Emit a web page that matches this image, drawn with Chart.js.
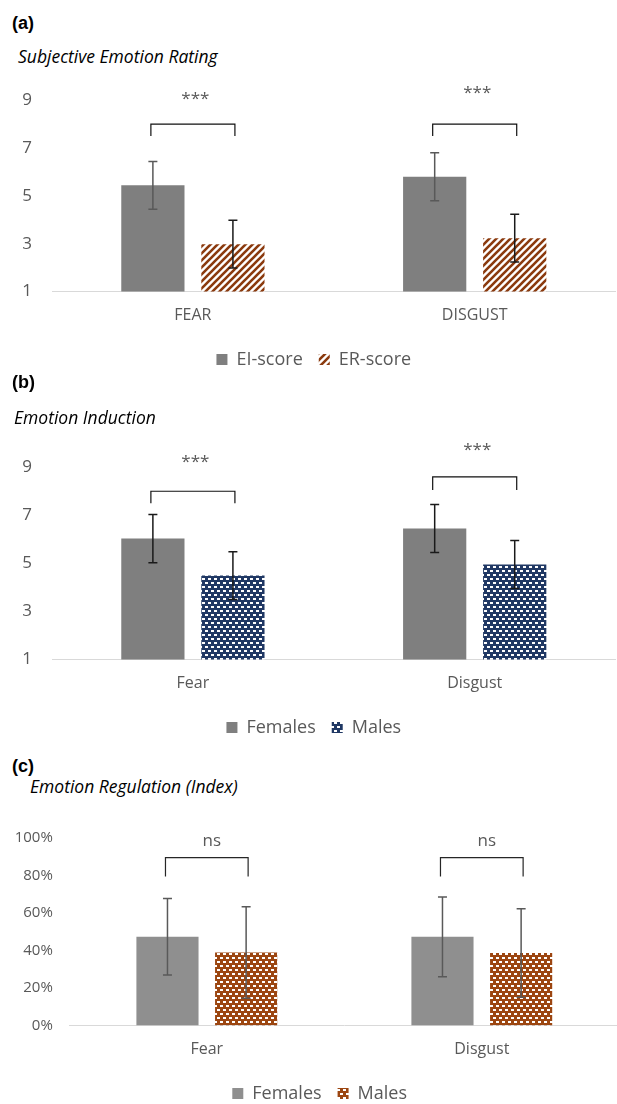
<!DOCTYPE html>
<html><head><meta charset="utf-8">
<script src="https://cdn.jsdelivr.net/npm/chart.js@4.4.1/dist/chart.umd.min.js"></script>
<style>
html,body{margin:0;padding:0;background:#fff;width:617px;height:1104px;overflow:hidden;position:relative;}
.lab{position:absolute;font-family:"Liberation Sans",Arial,sans-serif;font-weight:bold;font-size:18px;line-height:18px;color:#000;}
.sub{position:absolute;font-family:"Open Sans",sans-serif;font-style:italic;font-size:17.5px;line-height:17px;color:#000;white-space:nowrap;}
canvas{position:absolute;left:0;}
</style></head><body>
<div class="lab" style="left:12px;top:14px">(a)</div>
<div class="sub" style="left:18px;top:48px">Subjective Emotion Rating</div>
<canvas id="ca" width="630" height="310" style="top:70px"></canvas>
<div class="lab" style="left:12px;top:373px">(b)</div>
<div class="sub" style="left:14px;top:409px">Emotion Induction</div>
<canvas id="cb" width="630" height="311" style="top:437px"></canvas>
<div class="lab" style="left:12px;top:757px">(c)</div>
<div class="sub" style="left:30px;top:778px">Emotion Regulation (Index)</div>
<canvas id="cc" width="630" height="306" style="top:808px"></canvas>
<script>
// ---------- DATA ----------
// (a) Subjective Emotion Rating
const catsA = ['FEAR', 'DISGUST'];
const seriesA = ['EI-score', 'ER-score'];
const eiMean = [5.44, 5.80];
const eiSD = [1.00, 1.00];
const erMean = [2.98, 3.23];
const erSD = [1.00, 1.00];
const sigA = ['***', '***'];
const brTopA = [8.0, 8.0];
const brFootA = [7.5, 7.5];
const sigPosA = [9.05, 9.3];
const ticksA = [1, 3, 5, 7, 9];

// (b) Emotion Induction
const catsB = ['Fear', 'Disgust'];
const seriesB = ['Females', 'Males'];
const femMeanB = [6.03, 6.45];
const femSDB = [1.00, 1.00];
const malMeanB = [4.49, 4.95];
const malSDB = [0.99, 1.00];
const sigB = ['***', '***'];
const brTopB = [8.0, 8.6];
const brFootB = [7.5, 8.05];
const sigPosB = [9.19, 9.71];
const ticksB = [1, 3, 5, 7, 9];

// (c) Emotion Regulation (Index), percent
const catsC = ['Fear', 'Disgust'];
const seriesC = ['Females', 'Males'];
const femMeanC = [47.3, 47.3];
const femSDC = [20.4, 21.3];
const malMeanC = [39.0, 38.7];
const malSDC = [24.4, 23.6];
const sigC = ['ns', 'ns'];
const brTopC = [89.5, 89.5];
const brFootC = [79.5, 79.5];
const sigPosC = [98.1, 98.1];
const ticksC = [0, 20, 40, 60, 80, 100];

// ---------- STYLE ----------
const F = '"Open Sans", sans-serif';
const GREY_TXT = '#595959';

function stripePattern(color) {
  const s = 7, c = document.createElement('canvas');
  c.width = s; c.height = s;
  const g = c.getContext('2d');
  g.fillStyle = '#fff'; g.fillRect(0, 0, s, s);
  g.strokeStyle = color; g.lineWidth = 2.6; g.lineCap = 'square';
  g.beginPath();
  for (let k = -1; k <= 1; k++) {
    g.moveTo(k * s - 1, s + 1); g.lineTo(k * s + s + 1, -1);
  }
  g.stroke();
  return g.createPattern(c, 'repeat');
}
function brickPattern(bg) {
  const w = 6, h = 8, c = document.createElement('canvas');
  c.width = w; c.height = h;
  const g = c.getContext('2d');
  g.fillStyle = bg; g.fillRect(0, 0, w, h);
  g.fillStyle = '#fff';
  g.fillRect(1, 1, 3, 2);
  g.fillRect(4, 5, 2, 2); g.fillRect(0, 5, 1, 2);
  return g.createPattern(c, 'repeat');
}

const extras = {
  id: 'extras',
  afterLayout(chart, args, o) {
    if (o && o.legendShift && chart.legend) {
      chart.legend.left += o.legendShift; chart.legend.right += o.legendShift;
    }
  },
  afterDatasetsDraw(chart, args, o) {
    const ctx = chart.ctx, y = chart.scales.y;
    o.err.forEach((e, di) => {
      const meta = chart.getDatasetMeta(di);
      meta.data.forEach((bar, j) => {
        const m = chart.data.datasets[di].data[j], sd = e.sd[j];
        const yt = y.getPixelForValue(m + sd), yb = y.getPixelForValue(m - sd);
        ctx.save();
        ctx.strokeStyle = e.color; ctx.lineWidth = e.width;
        ctx.beginPath();
        ctx.moveTo(bar.x, yt); ctx.lineTo(bar.x, yb);
        ctx.moveTo(bar.x - 4.5, yt); ctx.lineTo(bar.x + 4.5, yt);
        ctx.moveTo(bar.x - 4.5, yb); ctx.lineTo(bar.x + 4.5, yb);
        ctx.stroke();
        ctx.restore();
      });
    });
    const b = o.br, m0 = chart.getDatasetMeta(0), m1 = chart.getDatasetMeta(1);
    b.top.forEach((t, j) => {
      const x0 = m0.data[j].x - 2, x1 = m1.data[j].x + 2;
      const yt = y.getPixelForValue(t), yf = y.getPixelForValue(b.foot[j]);
      ctx.save();
      ctx.strokeStyle = b.color; ctx.lineWidth = 1.2;
      ctx.beginPath();
      ctx.moveTo(x0, yf); ctx.lineTo(x0, yt); ctx.lineTo(x1, yt); ctx.lineTo(x1, yf);
      ctx.stroke();
      ctx.fillStyle = GREY_TXT; ctx.font = b.font;
      ctx.textAlign = 'center'; ctx.textBaseline = 'middle';
      ctx.fillText(b.text[j], (x0 + x1) / 2 + b.dx, y.getPixelForValue(b.pos[j]));
      ctx.restore();
    });
  }
};

function build(id, o) {
  return new Chart(document.getElementById(id), {
    type: 'bar',
    data: {
      labels: o.labels,
      datasets: [
        { label: o.names[0], data: o.d0, backgroundColor: o.c0, borderWidth: 0, categoryPercentage: o.cp, barPercentage: o.bp },
        { label: o.names[1], data: o.d1, backgroundColor: o.c1, borderWidth: 0, categoryPercentage: o.cp, barPercentage: o.bp }
      ]
    },
    options: {
      responsive: false, animation: false, devicePixelRatio: 1,
      layout: { padding: { top: o.padT, left: 0, right: o.padR, bottom: o.padB } },
      scales: {
        x: {
          grid: { display: false, drawTicks: false },
          border: { display: true, color: '#d9d9d9', width: 1 },
          ticks: { padding: 14, color: GREY_TXT, font: { family: F, size: 16 } },
          afterFit(s) { s.height = o.xh; }
        },
        y: {
          min: o.ticks[0], max: o.ticks[o.ticks.length - 1],
          grid: { display: false, drawTicks: false },
          border: { display: false },
          ticks: { stepSize: o.ticks[1] - o.ticks[0], padding: o.yp, color: GREY_TXT,
                   font: { family: F, size: o.yfs }, callback: o.fmt },
          afterFit(s) { s.width = o.yw; }
        }
      },
      plugins: {
        legend: { position: 'bottom',
          labels: { boxWidth: 11, boxHeight: 11, padding: 16, color: GREY_TXT, font: { family: F, size: 18 } } },
        tooltip: { enabled: false },
        extras: o.extras
      }
    },
    plugins: [extras]
  });
}

build('ca', {
  labels: catsA, names: seriesA, d0: eiMean, d1: erMean,
  c0: '#7f7f7f', c1: stripePattern('#8b3a0e'), cp: 0.568, bp: 0.79,
  padT: 29, padR: 14.4, padB: 1.5, xh: 43, yw: 52, yp: 20, yfs: 17,
  ticks: ticksA, fmt: v => String(v),
  extras: {
    legendShift: 6,
    err: [{ sd: eiSD, color: '#595959', width: 1.5 }, { sd: erSD, color: '#1a1a1a', width: 1.5 }],
    br: { top: brTopA, foot: brFootA, pos: sigPosA, text: sigA, color: '#111', font: '17px ' + F, dx: 2.5 }
  }
});

build('cb', {
  labels: catsB, names: seriesB, d0: femMeanB, d1: malMeanB,
  c0: '#7f7f7f', c1: brickPattern('#203864'), cp: 0.568, bp: 0.79,
  padT: 30, padR: 14.4, padB: 1.5, xh: 43, yw: 52, yp: 20, yfs: 17,
  ticks: ticksB, fmt: v => String(v),
  extras: {
    legendShift: 6,
    err: [{ sd: femSDB, color: '#1a1a1a', width: 1.5 }, { sd: malSDB, color: '#1a1a1a', width: 1.5 }],
    br: { top: brTopB, foot: brFootB, pos: sigPosB, text: sigB, color: '#111', font: '17px ' + F, dx: 2.5 }
  }
});

build('cc', {
  labels: catsC, names: seriesC, d0: femMeanC, d1: malMeanC,
  c0: '#8f8f8f', c1: brickPattern('#9c4611'), cp: 0.572, bp: 0.79,
  padT: 30, padR: 10.7, padB: 1.5, xh: 43, yw: 69.3, yp: 16.5, yfs: 15,
  ticks: ticksC, fmt: v => v + '%',
  extras: {
    legendShift: 10,
    err: [{ sd: femSDC, color: '#595959', width: 1.5 }, { sd: malSDC, color: '#595959', width: 1.5 }],
    br: { top: brTopC, foot: brFootC, pos: sigPosC, text: sigC, color: '#262626', font: '17px ' + F, dx: 5 }
  }
});
</script>
</body></html>
